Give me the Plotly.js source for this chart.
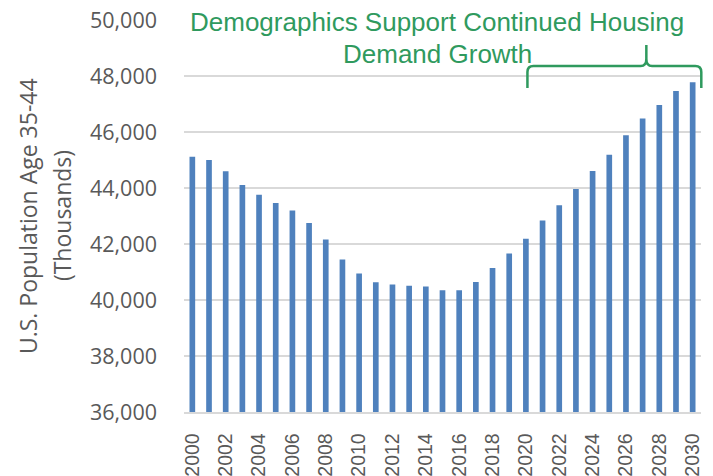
<!DOCTYPE html>
<html>
<head>
<meta charset="utf-8">
<script src="https://cdn.plot.ly/plotly-3.0.1.min.js"></script>
<style>html,body{margin:0;padding:0;background:#fff;}#chart{width:713px;height:476px;}</style>
</head>
<body>
<div id="chart"></div>
<script>
const years = ['2000','2001','2002','2003','2004','2005','2006','2007','2008','2009','2010',
  '2011','2012','2013','2014','2015','2016','2017','2018','2019','2020',
  '2021','2022','2023','2024','2025','2026','2027','2028','2029','2030'];
const population = [45120, 45000, 44600, 44110, 43760, 43460, 43200, 42750, 42160, 41450, 40950,
  40630, 40550, 40510, 40480, 40350, 40350, 40640, 41140, 41660, 42190,
  42840, 43380, 43960, 44610, 45190, 45880, 46480, 46960, 47460, 47780];
const tickYears = ['2000','2002','2004','2006','2008','2010','2012','2014','2016','2018','2020','2022','2024','2026','2028','2030'];
const titleLine1 = 'Demographics Support Continued Housing';
const titleLine2 = 'Demand Growth';
const yTitle1 = 'U.S. Population Age 35-44';
const yTitle2 = '(Thousands)';

const W = 713, H = 476;
const M = {l: 184, r: 11.6, t: 20, b: 64};
const pw = W - M.l - M.r, ph = H - M.t - M.b;
const px = x => (x - M.l) / pw;
const py = y => (H - M.b - y) / ph;

const green = '#2f9a5e';
const grey = '#595959';

function P(x, y) { return px(x).toFixed(5) + ',' + py(y).toFixed(5); }
const brace = 'M ' + P(527.7, 88) + ' L ' + P(527.7, 72) +
  ' Q ' + P(527.7, 66) + ' ' + P(533.7, 66) +
  ' L ' + P(641, 66) + ' Q ' + P(646.7, 66) + ' ' + P(646.7, 59) +
  ' L ' + P(646.7, 45) + ' L ' + P(646.7, 59) +
  ' Q ' + P(646.7, 66) + ' ' + P(652.4, 66) +
  ' L ' + P(695.7, 66) + ' Q ' + P(701.7, 66) + ' ' + P(701.7, 72) +
  ' L ' + P(701.7, 88);

const trace = {
  type: 'bar',
  x: years,
  y: population,
  marker: {color: '#4f81bd', line: {width: 0}},
  hoverinfo: 'x+y'
};

const layout = {
  width: W, height: H,
  margin: M,
  paper_bgcolor: '#fff', plot_bgcolor: '#fff',
  showlegend: false,
  bargap: 0.66,
  xaxis: {
    type: 'category',
    tickvals: tickYears,
    ticktext: tickYears,
    tickangle: -90,
    tickfont: {family: 'Liberation Sans, Arial, sans-serif', size: 19.5, color: grey},
    ticks: '',
    ticklabelstandoff: 12,
    showgrid: false,
    showline: true,
    linecolor: '#d9d9d9',
    linewidth: 1.5,
    zeroline: false
  },
  yaxis: {
    range: [36000, 50000],
    dtick: 2000,
    tick0: 36000,
    tickformat: ',',
    tickfont: {family: 'Open Sans, sans-serif', size: 21.5, color: grey},
    ticks: '',
    ticklabelstandoff: 26,
    showgrid: true,
    gridcolor: '#d9d9d9',
    gridwidth: 1.5,
    zeroline: false,
    showline: false
  },
  shapes: [{
    type: 'path', xref: 'paper', yref: 'paper',
    path: brace,
    line: {color: green, width: 2.5}
  }],
  annotations: [
    {xref: 'paper', yref: 'paper', x: px(437.5), y: py(22), xanchor: 'center', yanchor: 'middle',
     text: titleLine1, showarrow: false,
     font: {family: 'Liberation Sans, Arial, sans-serif', size: 26, color: green}},
    {xref: 'paper', yref: 'paper', x: px(437.5), y: py(54), xanchor: 'center', yanchor: 'middle',
     text: titleLine2, showarrow: false,
     font: {family: 'Liberation Sans, Arial, sans-serif', size: 26, color: green}},
    {xref: 'paper', yref: 'paper', x: px(28), y: py(216), xanchor: 'center', yanchor: 'middle',
     text: yTitle1, textangle: -90, showarrow: false,
     font: {family: 'Open Sans, sans-serif', size: 23, color: grey}},
    {xref: 'paper', yref: 'paper', x: px(62), y: py(216), xanchor: 'center', yanchor: 'middle',
     text: yTitle2, textangle: -90, showarrow: false,
     font: {family: 'Open Sans, sans-serif', size: 23, color: grey}}
  ]
};

Plotly.newPlot('chart', [trace], layout, {displayModeBar: false, staticPlot: true});
</script>
</body>
</html>
